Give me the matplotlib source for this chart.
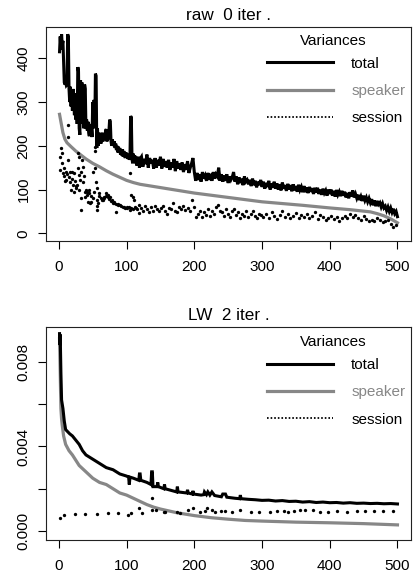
import matplotlib
matplotlib.use("Agg")
import matplotlib.pyplot as plt
from matplotlib.lines import Line2D

plt.rcParams['font.family'] = ['Liberation Sans', 'DejaVu Sans']

# ---------------- data: top panel ("raw 0 iter .") ----------------
top_title = "raw  0 iter ."
top_total_x = list(range(1, 121)) + list(range(122, 501, 2))
top_total = [
    415, 450, 420, 455, 430, 440, 390, 345, 340, 345,
    338, 340, 455, 450, 330, 300, 335, 290, 320, 280,
    330, 300, 270, 320, 260, 300, 250, 380, 370, 240,
    225, 350, 260, 345, 250, 300, 240, 340, 330, 240,
    260, 235, 255, 230, 222, 250, 230, 240, 220, 300,
    250, 305, 240, 365, 360, 195, 240, 200, 230, 210,
    225, 205, 215, 230, 210, 220, 225, 215, 235, 238,
    210, 225, 215, 235, 260, 255, 210, 200, 215, 205,
    200, 210, 195, 205, 190, 200, 185, 198, 185, 195,
    180, 190, 178, 192, 175, 188, 180, 172, 185, 175,
    182, 170, 180, 168, 175, 268, 265, 170, 160, 182,
    165, 178, 160, 175, 155, 172, 158, 175, 150, 170,
    # x = 122 .. 500 step 2
    175, 152, 170, 158, 180, 150, 172, 160, 168, 148,
    172, 150, 168, 155, 175, 148, 170, 152, 165, 150,
    168, 145, 162, 150, 170, 142, 165, 148, 160, 145,
    162, 140, 158, 145, 165, 138, 150, 160, 172, 140,
    120, 138, 122, 135, 118, 140, 125, 132, 120, 138,
    122, 136, 120, 140, 125, 135, 130, 150, 120, 135,
    118, 132, 120, 135, 115, 130, 122, 128, 140, 118,
    130, 112, 128, 115, 125, 110, 130, 118, 122, 112,
    122, 108, 125, 110, 120, 105, 118, 110, 122, 106,
    118, 102, 115, 106, 120, 100, 114, 104, 118, 102,
    114, 100, 112, 98, 116, 102, 110, 97, 113, 100,
    110, 96, 112, 98, 108, 95, 111, 99, 106, 94,
    108, 94, 105, 92, 106, 95, 103, 90, 104, 93,
    104, 90, 100, 88, 102, 92, 98, 86, 100, 90,
    100, 86, 97, 84, 99, 88, 95, 85, 97, 86,
    95, 82, 92, 80, 94, 84, 98, 82, 90, 80,
    88, 76, 84, 74, 86, 75, 82, 72, 80, 70,
    78, 64, 75, 62, 74, 66, 70, 60, 68, 58,
    62, 52, 60, 50, 58, 48, 56, 45, 50, 38,
]
top_speaker_pts = [(1, 272), (3, 255), (6, 230), (9, 215), (12, 207), (18, 198),
                   (25, 188), (30, 182), (40, 170), (50, 160), (60, 152),
                   (70, 143), (80, 135), (90, 128), (100, 121), (110, 116),
                   (120, 112), (140, 107), (160, 102), (180, 97), (200, 92),
                   (220, 88), (250, 82), (280, 76), (300, 72), (330, 68),
                   (360, 64), (400, 58), (430, 54), (460, 49), (470, 45),
                   (480, 40), (490, 33), (500, 24)]
top_session_pts = [
    (1, 145), (2, 175), (3, 194), (4, 160), (5, 183), (6, 137), (7, 150),
    (8, 130), (9, 120), (10, 140), (11, 122), (12, 135), (13, 248), (13, 168),
    (14, 221), (15, 128), (16, 141), (17, 118), (18, 100), (19, 125),
    (20, 140), (21, 110), (22, 95), (23, 137), (24, 120), (25, 107), (26, 103),
    (27, 110), (28, 183), (28, 150), (29, 133), (30, 175), (30, 99), (31, 122),
    (32, 53), (33, 80), (33, 140), (34, 168), (35, 118), (36, 152), (37, 130),
    (38, 95), (39, 84), (40, 100), (41, 88), (42, 95), (43, 72), (44, 98),
    (45, 91), (46, 70), (47, 85), (48, 72), (50, 80), (51, 141), (52, 95),
    (53, 187), (54, 198), (54, 150), (55, 118), (56, 103), (56, 76), (56, 53),
    (57, 62), (58, 70), (59, 91), (60, 85), (62, 80), (63, 75), (65, 76),
    (66, 83), (67, 80), (69, 91), (70, 86), (72, 88), (73, 82), (74, 78),
    (75, 84), (77, 74), (78, 76), (80, 70), (81, 72), (82, 69), (84, 48),
    (85, 66), (87, 67), (88, 64), (90, 65), (92, 63), (94, 61), (96, 60),
    (98, 57), (100, 58), (101, 61), (103, 60), (105, 53), (105, 137), (106, 88),
    (107, 58), (109, 84), (110, 55), (111, 76), (113, 60), (114, 57), (116, 55),
    (118, 65), (119, 46),
    (121, 58), (124, 52), (127, 62), (130, 55), (133, 48), (136, 60), (139, 52),
    (142, 63), (145, 55), (148, 50), (151, 58), (154, 62), (157, 52), (160, 45),
    (163, 58), (166, 55), (169, 70), (172, 52), (175, 48), (178, 60), (181, 56),
    (184, 62), (187, 54), (190, 58), (193, 50), (196, 75), (199, 60), (202, 38),
    (205, 45), (208, 50), (211, 38), (214, 48), (217, 42), (220, 55), (223, 40),
    (226, 50), (229, 45), (232, 60), (235, 65), (238, 52), (241, 48), (244, 40),
    (247, 55), (250, 45), (253, 38), (256, 50), (259, 55), (262, 42), (265, 48),
    (268, 35), (271, 45), (274, 40), (277, 50), (280, 38), (283, 44), (286, 52),
    (289, 40), (292, 36), (295, 45), (298, 42),
    (302, 38), (306, 45), (310, 35), (314, 48), (318, 40), (322, 33), (326, 42),
    (330, 50), (334, 38), (338, 44), (342, 36), (346, 40), (350, 47), (354, 34),
    (358, 42), (362, 38), (366, 45), (370, 35), (374, 40), (378, 48), (382, 33),
    (386, 42), (390, 37), (394, 30), (398, 35), (402, 40), (406, 32), (410, 38),
    (414, 28), (418, 34), (422, 40), (426, 36), (430, 45), (434, 38), (438, 42),
    (442, 35), (446, 30), (450, 40), (454, 33), (458, 28), (462, 30), (466, 28),
    (470, 35), (474, 30), (478, 26), (482, 28), (486, 30), (490, 22), (494, 15),
    (498, 20)]

# ---------------- data: bottom panel ("LW 2 iter .") ----------------
bot_title = "LW  2 iter ."
bot_total_pts = [
    (1, 0.00934), (1.5, 0.0088), (2, 0.0093), (3, 0.0075), (4, 0.0062),
    (6, 0.0058), (8, 0.0052), (10, 0.0048), (13, 0.0047), (16, 0.0046),
    (20, 0.0045), (25, 0.0043), (30, 0.0041), (35, 0.0038), (40, 0.0036),
    (45, 0.0035), (50, 0.0034), (55, 0.0033), (60, 0.0032), (70, 0.0030),
    (80, 0.0029), (90, 0.0027), (100, 0.0026), (103, 0.00255), (104, 0.0022),
    (105, 0.00255), (110, 0.0025), (118, 0.0024), (119, 0.0027), (120, 0.0027),
    (121, 0.0024), (130, 0.0023), (136, 0.0022), (137, 0.0028), (138, 0.0028),
    (139, 0.0021), (145, 0.0021), (146, 0.0023), (147, 0.0021), (155, 0.0020),
    (156, 0.0022), (157, 0.0020), (174, 0.00185), (175, 0.0021), (176, 0.00185),
    (189, 0.0018), (190, 0.00195), (191, 0.0018), (197, 0.00175), (198, 0.0019),
    (199, 0.00175), (210, 0.0017), (214, 0.00172), (215, 0.00185),
    (218, 0.00172), (220, 0.00185), (223, 0.0017), (226, 0.00185),
    (230, 0.00168), (240, 0.00162), (242, 0.00175), (246, 0.00175),
    (248, 0.0016), (260, 0.00155), (267, 0.00153), (268, 0.0017),
    (269, 0.00153), (280, 0.0015), (290, 0.00148), (300, 0.00145),
    (310, 0.00146), (320, 0.00142), (330, 0.00144), (340, 0.0014),
    (350, 0.00141), (360, 0.00137), (370, 0.00139), (380, 0.00135),
    (390, 0.00137), (400, 0.00134), (410, 0.00135), (420, 0.00132),
    (430, 0.00134), (440, 0.00131), (450, 0.00132), (460, 0.0013),
    (470, 0.00131), (480, 0.00129), (490, 0.0013), (500, 0.00128)]
bot_speaker_pts = [
    (1, 0.0091), (2, 0.0075), (3, 0.0058), (4, 0.0053), (5, 0.0050),
    (7, 0.0045), (10, 0.0041), (15, 0.0038), (20, 0.0036), (30, 0.0031),
    (40, 0.0028), (50, 0.0025), (60, 0.0023), (70, 0.0022), (80, 0.0020),
    (90, 0.0018), (100, 0.0017), (110, 0.00155), (120, 0.0014), (130, 0.00125),
    (140, 0.00113), (150, 0.00104), (175, 0.00086), (200, 0.00073),
    (225, 0.00063), (250, 0.00056), (275, 0.0005), (300, 0.00047),
    (350, 0.00042), (400, 0.00039), (450, 0.00035), (500, 0.00029)]
bot_session_pts = [
    (1, 0.0006), (8, 0.00076), (24, 0.00079), (39, 0.0008), (56, 0.00082),
    (72, 0.00083), (88, 0.00085), (102, 0.00076), (107, 0.00087),
    (118, 0.00107), (123, 0.00083), (137, 0.00154), (138, 0.00099),
    (143, 0.001), (155, 0.00091), (157, 0.00088), (175, 0.00091),
    (179, 0.00087), (190, 0.00098), (198, 0.0011), (209, 0.00088),
    (216, 0.00094), (219, 0.00107), (226, 0.00099), (231, 0.00088),
    (240, 0.00094), (246, 0.00094), (256, 0.00088), (268, 0.00099),
    (283, 0.00091), (295, 0.00091), (312, 0.00091), (322, 0.00094),
    (332, 0.00094), (339, 0.00091), (347, 0.00094), (356, 0.00098),
    (364, 0.00098), (376, 0.00098), (386, 0.00091), (398, 0.00091),
    (411, 0.00094), (425, 0.00091), (440, 0.00094), (452, 0.00094),
    (465, 0.00094), (479, 0.00094), (494, 0.00094)]

x_ticks = [0, 100, 200, 300, 400, 500]
top_yticks = [0, 100, 200, 300, 400]
top_ylabels = ["0", "100", "200", "300", "400"]
bot_yticks = [0, 0.002, 0.004, 0.006, 0.008]
bot_ylabels = ["0.000", "", "0.004", "", "0.008"]
legend_labels = ["total", "speaker", "session"]

GRAY = "#878787"
W, H = 414, 575
fig = plt.figure(figsize=(W / 100, H / 100), dpi=100)


def px_axes(left, top, right, bottom):
    return fig.add_axes([left / W, 1 - bottom / H, (right - left) / W, (bottom - top) / H])


def unzip(pts):
    return [p[0] for p in pts], [p[1] for p in pts]


def draw(ax, title, tx, ty, speaker_pts, session_pts, ylim, yticks, ylabels,
         leg_y, var_y):
    sx, sy = unzip(speaker_pts)
    dx, dy = unzip(session_pts)
    ax.plot(sx, sy, color=GRAY, lw=2.3, solid_joinstyle='round')
    ax.plot(tx, ty, color="black", lw=2.2, solid_joinstyle='miter')
    ax.plot(dx, dy, linestyle='none', marker='o', ms=2.4, mew=0, color="black")
    ax.set_xlim(-19, 520)
    ax.set_ylim(*ylim)
    ax.set_xticks(x_ticks)
    ax.set_xticklabels([str(t) for t in x_ticks])
    ax.set_yticks(yticks)
    ax.set_yticklabels(ylabels, rotation=90, va='center')
    ax.tick_params(axis='both', direction='out', length=6, width=0.8,
                   labelsize=11, colors='black')
    ax.tick_params(axis='x', pad=8)
    ax.tick_params(axis='y', pad=5)
    for s in ax.spines.values():
        s.set_linewidth(0.8)
        s.set_color('#222222')
    ax.set_title(title, fontsize=12.3, pad=5)
    handles = [Line2D([], [], color='black', lw=2.2),
               Line2D([], [], color=GRAY, lw=2.3),
               Line2D([], [], color='black', lw=1.3, linestyle=(0, (0.9, 1.1)))]
    leg = ax.legend(handles, legend_labels, loc='upper left',
                    bbox_to_anchor=(0.605, leg_y), frameon=False, fontsize=11,
                    handlelength=4.36, handletextpad=1.16, labelspacing=0.88,
                    borderpad=0, borderaxespad=0)
    leg.get_texts()[1].set_color(GRAY)
    ax.text(0.786, var_y, "Variances", transform=ax.transAxes, fontsize=11,
            ha='center', va='center')


bot_total_x, bot_total = unzip(bot_total_pts)

ax1 = px_axes(46, 27, 411, 241)
draw(ax1, top_title, top_total_x, top_total, top_speaker_pts, top_session_pts,
     (-17.6, 471.6), top_yticks, top_ylabels, 0.862, 0.934)

ax2 = px_axes(46, 327, 411, 540)
draw(ax2, bot_title, bot_total_x, bot_total, bot_speaker_pts, bot_session_pts,
     (-0.000425, 0.009654), bot_yticks, bot_ylabels, 0.855, 0.930)

fig.savefig("out.png", dpi=100)
